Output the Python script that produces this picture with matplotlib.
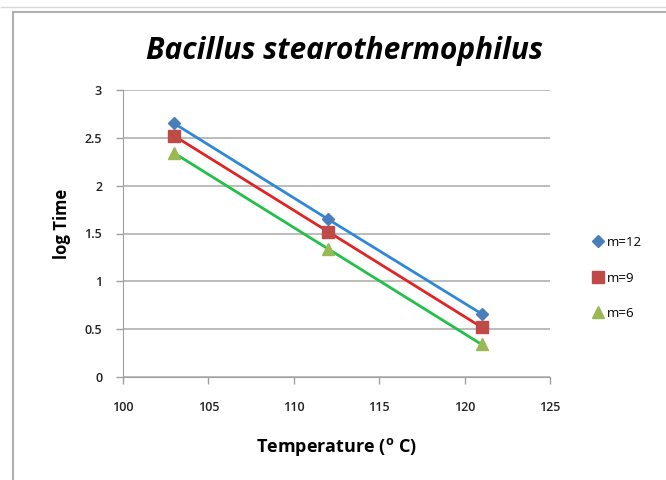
import matplotlib
matplotlib.use("Agg")
import matplotlib.pyplot as plt
from matplotlib.patches import Rectangle

temps = [103, 112, 121]
m12 = [2.65, 1.65, 0.66]
m9 = [2.52, 1.52, 0.52]
m6 = [2.34, 1.34, 0.34]
labels = ["m=12", "m=9", "m=6"]

plt.rcParams['font.family'] = ['Open Sans', 'DejaVu Sans']
plt.rcParams['mathtext.fontset'] = 'custom'
plt.rcParams['mathtext.rm'] = 'Open Sans:bold'
plt.rcParams['mathtext.it'] = 'Open Sans:bold'
plt.rcParams['mathtext.bf'] = 'Open Sans:bold'

fig = plt.figure(figsize=(6.66, 4.8), dpi=100)
fig.patches.append(Rectangle((13/666, -0.1), 1, 1.1 - 12/480, transform=fig.transFigure,
                             fill=False, edgecolor='#b0b0b0', linewidth=1.5))
fig.patches.append(Rectangle((0, 1 - 7/480), 1, 0.0001, transform=fig.transFigure,
                             fill=False, edgecolor='#d8d8d8', linewidth=1))
ax = fig.add_axes([123/666, 1 - 377/480, (550 - 123)/666, (377 - 90)/480])

series = [
    (m12, 'D', '#4a7ebb', '#2f87d8', 6),
    (m9, 's', '#be4b48', '#e02424', 8),
    (m6, '^', '#98b954', '#22c04a', 8),
]
for (vals, mk, mc, lc, ms), lab in zip(series, labels):
    ax.plot(temps, vals, color=lc, linewidth=2, zorder=2)
    ax.plot(temps, vals, linestyle='none', marker=mk, color=mc, markersize=ms,
            label=lab, zorder=3)

ax.set_xlim(100, 125)
ax.set_ylim(0, 3)
ax.set_xticks([100, 105, 110, 115, 120, 125])
ax.set_yticks([0, 0.5, 1, 1.5, 2, 2.5, 3])
ax.set_yticklabels(['0', '0.5', '1', '1.5', '2', '2.5', '3'])
ax.grid(axis='y', color='#b0b0b0', linewidth=1.2)
ax.set_axisbelow(True)
for s in ['top', 'right']:
    ax.spines[s].set_visible(False)
for s in ['left', 'bottom']:
    ax.spines[s].set_color('#a0a0a0')
ax.tick_params(axis='both', colors='#a0a0a0', labelcolor='#222222', labelsize=9,
               length=5, width=1)
for lbl in ax.get_xticklabels() + ax.get_yticklabels():
    lbl.set_fontweight('semibold')
ax.tick_params(axis='x', pad=12)
ax.tick_params(axis='y', pad=10)
ax.set_xlabel('Temperature ($^{\\mathrm{o}}$ C)', fontsize=13, fontweight='bold')
ax.xaxis.set_label_coords(0.5, -(436 - 377) / 287)
ax.set_ylabel('log Time', fontsize=12, fontweight='bold')
ax.yaxis.set_label_coords(-(123 - 71) / 427, (377 - 224) / 287)
ax.set_title('Bacillus stearothermophilus', fontsize=21.5, fontweight='bold',
             fontstyle='italic', pad=22, x=0.518)

ax.legend(loc='center left', bbox_to_anchor=(1.065, (377 - 278) / 287), frameon=False,
          fontsize=9.5, handletextpad=0.1, labelspacing=1.7, handlelength=1.2)

fig.savefig('out.png', dpi=100, facecolor='white')
